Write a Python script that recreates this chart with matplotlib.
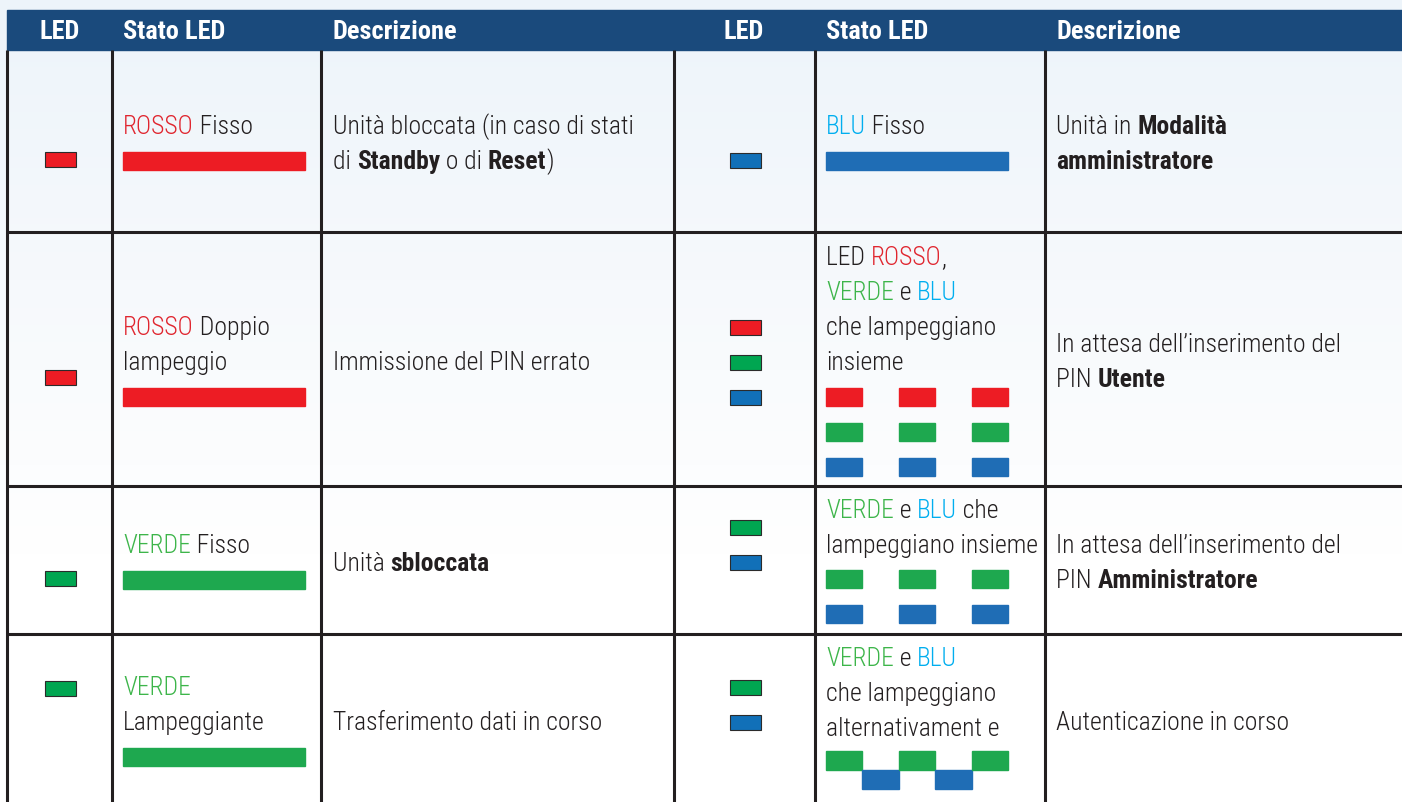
import re
import numpy as np
import matplotlib.pyplot as plt
from matplotlib import font_manager
from matplotlib.colors import LinearSegmentedColormap
from matplotlib.patches import Rectangle

# pick the narrowest family that is actually installed
installed = {f.name for f in font_manager.fontManager.ttflist}
candidates = ['Roboto Condensed', 'Liberation Sans Narrow', 'Open Sans Condensed',
              'DejaVu Sans Condensed', 'Noto Sans Condensed', 'Liberation Sans']
FAMILY = next((c for c in candidates if c in installed), 'DejaVu Sans')
plt.rcParams['font.family'] = [FAMILY, 'DejaVu Sans']
# light weight for body text if that family has it
has_light = any(f.name == FAMILY and f.weight in (300, 'light') for f in font_manager.fontManager.ttflist)
NORMAL = 'light' if has_light else 'normal'

# === colours ===
INK = '#231f20'
HEAD = '#1a4a7c'
LED_COL = {'R': '#ed1c24', 'G': '#00a651', 'B': '#1170b8'}
BAR_COL = {'R': '#ed1c24', 'G': '#1ea84f', 'B': '#1f6db5'}
WORD_COL = {'r': '#e0262f', 'g': '#3db54a', 'c': '#00aeef'}

# === table content ===
headers = ['LED', 'Stato LED', 'Descrizione']

left_leds = [['R'], ['R'], ['G'], ['G']]
left_state = [
    ['[r]ROSSO[/] Fisso'],
    ['[r]ROSSO[/] Doppio', 'lampeggio'],
    ['[g]VERDE[/] Fisso'],
    ['[g]VERDE[/]', 'Lampeggiante'],
]
left_pattern = ['fisso', 'fisso', 'fisso', 'fisso']
left_desc = [
    ['Unità bloccata (in caso di stati', 'di [b]Standby[/] o di [b]Reset[/])'],
    ['Immissione del PIN errato'],
    ['Unità [b]sbloccata[/]'],
    ['Trasferimento dati in corso'],
]

right_leds = [['B'], ['R', 'G', 'B'], ['G', 'B'], ['G', 'B']]
right_state = [
    ['[c]BLU[/] Fisso'],
    ['LED [r]ROSSO[/],', '[g]VERDE[/] e [c]BLU[/]', 'che lampeggiano', 'insieme'],
    ['[g]VERDE[/] e [c]BLU[/] che', 'lampeggiano insieme'],
    ['[g]VERDE[/] e [c]BLU[/]', 'che lampeggiano', 'alternativament e'],
]
right_pattern = ['fisso', 'insieme', 'insieme', 'alternato']
right_desc = [
    ['Unità in [b]Modalità[/]', '[b]amministratore[/]'],
    ['In attesa dell\u2019inserimento del', 'PIN [b]Utente[/]'],
    ['In attesa dell\u2019inserimento del', 'PIN [b]Amministratore[/]'],
    ['Autenticazione in corso'],
]

# === layout (pixel coordinates, y downwards) ===
W, H = 1402, 802
row_edges = [50, 232, 486, 634, 802]
col_lines = [7, 112, 321, 674, 815, 1045]
LINE = 35

halves = [
    dict(led_cx=60, state_x=123, desc_x=333, head_led=60,
         leds=left_leds, state=left_state, pattern=left_pattern, desc=left_desc,
         state_y=[125, 326, 544, 686], bar_y=[152, 388, 571, 748],
         desc_y=[125, 361, 562, 721], led_y=[152, 370, 571, 681]),
    dict(led_cx=745, state_x=826, desc_x=1056, head_led=744,
         leds=right_leds, state=right_state, pattern=right_pattern, desc=right_desc,
         state_y=[125, 256, 509, 657], bar_y=[152, 388, 570, 751],
         desc_y=[125, 343, 544, 721], led_y=[153, 320, 520, 680]),
]

fig = plt.figure(figsize=(W / 100, H / 100), dpi=100)
ax = fig.add_axes([0, 0, 1, 1])
ax.set_xlim(0, W)
ax.set_ylim(H, 0)
ax.axis('off')

renderer = fig.canvas.get_renderer()


def raw_width(s, weight, size):
    t = ax.text(0, 0, s, fontsize=size, fontweight=weight)
    bb = t.get_window_extent(renderer)
    t.remove()
    return bb.width


def text_width(txt, weight, size):
    return raw_width('|' + txt + '|', weight, size) - raw_width('||', weight, size)


# size the fonts so line widths match the reference
BODY = min(24.0, 20 * 284 / text_width('In attesa dell\u2019inserimento del', NORMAL, 20))
HEADSZ = min(19.0, 20 * 126 / text_width('Descrizione', 'bold', 20))

# soft bluish background
bg = LinearSegmentedColormap.from_list('bg', ['#edf4fa', '#f6f9fc', '#ffffff'])
ax.imshow(np.linspace(0, 1, 100).reshape(-1, 1), cmap=bg, aspect='auto',
          extent=[0, W, 560, 0], zorder=0)
ax.add_patch(Rectangle((0, 560), W, H - 560, color='white', zorder=0))


def rich(x, yc, markup, size=None):
    size = size or BODY
    parts = re.split(r'\[(\w)\](.*?)\[/\]', markup)
    segs = []
    for i in range(0, len(parts), 3):
        if parts[i]:
            segs.append(('n', parts[i]))
        if i + 1 < len(parts):
            segs.append((parts[i + 1], parts[i + 2]))
    base = yc + size * 100 / 72 * 0.716 / 2
    for tag, txt in segs:
        weight = 'bold' if tag == 'b' else NORMAL
        ax.text(x, base, txt, fontsize=size, fontweight=weight,
                color=WORD_COL.get(tag, INK), va='baseline', ha='left', zorder=3)
        x += text_width(txt, weight, size)


# header bar
ax.add_patch(Rectangle((7, 10), W - 7, 40, color=HEAD, zorder=1))
for h in halves:
    xs = [h['head_led'], h['state_x'], h['desc_x']]
    for i, (hx, lab) in enumerate(zip(xs, headers)):
        ax.text(hx, 30 + HEADSZ * 100 / 72 * 0.716 / 2, lab, color='white',
                fontsize=HEADSZ, fontweight='bold',
                ha='center' if i == 0 else 'left', va='baseline', zorder=3)

# grid
for x in col_lines:
    ax.plot([x, x], [row_edges[0], H], color=INK, lw=2.2, zorder=2,
            solid_capstyle='butt')
for y in row_edges[1:-1]:
    ax.plot([col_lines[0], W], [y, y], color=INK, lw=2.2, zorder=2,
            solid_capstyle='butt')

BAR_W = 182
SLOT = BAR_W / 5
for h in halves:
    for r in range(4):
        # small LED indicators
        for k, c in enumerate(h['leds'][r]):
            ax.add_patch(Rectangle((h['led_cx'] - 15.5, h['led_y'][r] + k * LINE), 31, 15,
                                   facecolor=LED_COL[c], edgecolor='#2b2b2b', lw=0.8, zorder=3))
        # state text
        for k, line in enumerate(h['state'][r]):
            rich(h['state_x'], h['state_y'][r] + k * LINE, line)
        # blink pattern bars
        x0, y0 = h['state_x'], h['bar_y'][r]
        cols = h['leds'][r]
        pat = h['pattern'][r]
        if pat == 'fisso':
            for k, c in enumerate(cols):
                ax.add_patch(Rectangle((x0, y0 + k * LINE), BAR_W, 18,
                                       color=BAR_COL[c], zorder=3))
        elif pat == 'insieme':
            for k, c in enumerate(cols):
                for s in (0, 2, 4):
                    ax.add_patch(Rectangle((x0 + s * SLOT, y0 + k * LINE), SLOT, 18,
                                           color=BAR_COL[c], zorder=3))
        else:
            for s in range(5):
                c = cols[s % 2]
                ax.add_patch(Rectangle((x0 + s * SLOT, y0 + (s % 2) * 19), SLOT, 19,
                                       color=BAR_COL[c], zorder=3))
        # description
        for k, line in enumerate(h['desc'][r]):
            rich(h['desc_x'], h['desc_y'][r] + k * LINE, line)

fig.savefig('out.png', dpi=100)
